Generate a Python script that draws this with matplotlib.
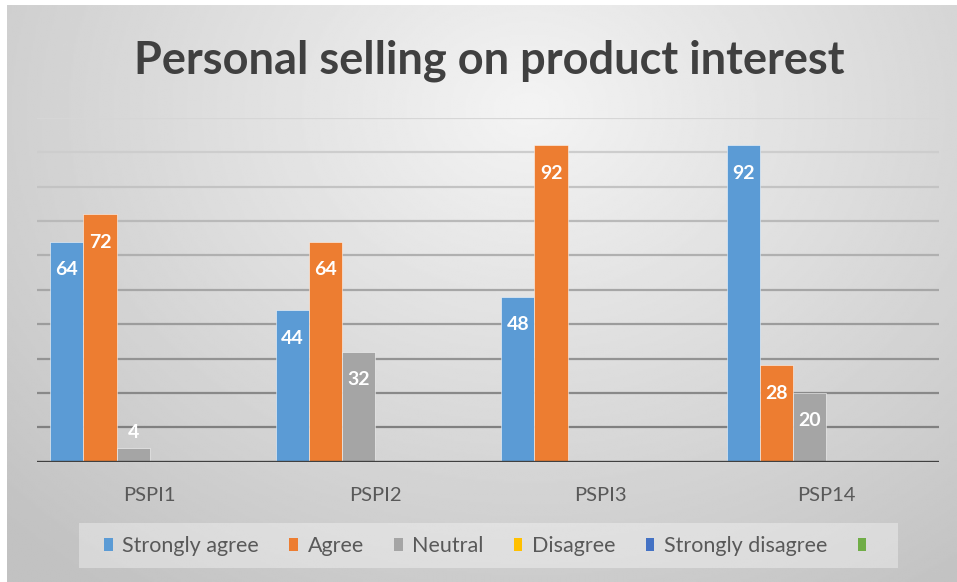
import numpy as np
import matplotlib
matplotlib.use("Agg")
import matplotlib.pyplot as plt
from matplotlib.patches import Rectangle

# ── Data ──────────────────────────────────────────────────────────────────────
categories = ["PSPI1", "PSPI2", "PSPI3", "PSP14"]
series_names = ["Strongly agree", "Agree", "Neutral", "Disagree",
                "Strongly disagree", ""]
strongly_agree = [64, 44, 48, 92]
agree = [72, 64, 92, 28]
neutral = [4, 32, 0, 20]
disagree = [0, 0, 0, 0]
strongly_disagree = [0, 0, 0, 0]
unnamed = [0, 0, 0, 0]
series_values = [strongly_agree, agree, neutral, disagree,
                 strongly_disagree, unnamed]

COLORS = ["#5B9BD5", "#ED7D31", "#A5A5A5", "#FFC000", "#4472C4", "#70AD47"]
FONT = "Lato"
W, H = 957, 582


def fx(px):
    return px / W


def fy(py):
    return 1 - py / H


fig = plt.figure(figsize=(W / 100, H / 100), dpi=100)
fig.patch.set_facecolor("white")

# ── Radial grey backdrop ──────────────────────────────────────────────────────
bg = fig.add_axes([fx(7), 0, fx(W - 7), 1 - 5 / H])
bg.set_axis_off()
yy, xx = np.mgrid[0:1:300j, 0:1:500j]
r = np.sqrt(((xx - 0.55) / 0.75) ** 2 + ((yy - 0.18) / 1.0) ** 2)
shade = np.clip(0.955 - 0.19 * r, 0.76, 0.96)
bg.imshow(shade, cmap="gray", vmin=0, vmax=1, aspect="auto",
          extent=[0, 1, 1, 0], interpolation="bilinear")
bg.set_xlim(0, 1)
bg.set_ylim(1, 0)

# ── Plot area ─────────────────────────────────────────────────────────────────
top_px, base_px, left_px, right_px = 118, 461.7, 37, 939
ax = fig.add_axes([fx(left_px), fy(base_px), fx(right_px - left_px),
                   (base_px - top_px) / H])
ax.patch.set_alpha(0)
for s in ax.spines.values():
    s.set_visible(False)

# gridlines get lighter towards the top
levels = np.arange(10, 101, 10)
for lv in levels:
    t = (lv - 10) / 90
    c = 0.50 + 0.34 * t
    ax.axhline(lv, color=(c, c, c), lw=1.6, zorder=0)

n = len(series_names)
width = 0.147
x = np.arange(len(categories)) + 0.5
for i, (name, vals, col) in enumerate(zip(series_names, series_values, COLORS)):
    pos = x + (i - (n - 1) / 2) * width
    ax.bar(pos, vals, width=width, color=col, edgecolor=(1, 1, 1, 0.6),
           linewidth=0.6, zorder=2, label=name)
    for p, v in zip(pos, vals):
        if v == 0:
            continue
        # small bars get the label just above the bar
        dy = 11 if v < 8 else -20
        ax.annotate(str(v), (p, v), xytext=(0, dy), textcoords="offset points",
                    ha="center", va="center", color="white", fontsize=14,
                    fontweight="bold", family=FONT, zorder=3)

ax.axhline(0, color="#404040", lw=2.4, zorder=4)
ax.set_xlim(0, len(categories))
ax.set_ylim(0, 100)
ax.set_yticks([])
ax.set_xticks(x)
ax.set_xticklabels(categories, fontsize=14.5, color="#595959", family=FONT)
ax.tick_params(axis="x", length=0, pad=18.5)

# ── Title ─────────────────────────────────────────────────────────────────────
fig.text(fx(489), fy(61), "Personal selling on product interest",
         ha="center", va="center", fontsize=32.5, fontweight="bold",
         color="#404040", family=FONT)

# ── Legend ────────────────────────────────────────────────────────────────────
fig.patches.append(Rectangle((fx(79), fy(568)), fx(898 - 79), (568 - 523) / H,
                             transform=fig.transFigure, facecolor="white",
                             alpha=0.35, edgecolor="none", zorder=1))
handles = [Rectangle((0, 0), 1, 1, facecolor=c) for c in COLORS]
fig.legend(handles, series_names, loc="center",
           bbox_to_anchor=(fx(490), fy(546)), ncol=n, frameon=False,
           prop={"family": FONT, "size": 15.5}, labelcolor="#595959",
           handlelength=0.4, handleheight=0.6, handletextpad=0.45,
           columnspacing=1.4)

fig.savefig("out.png", dpi=100)
